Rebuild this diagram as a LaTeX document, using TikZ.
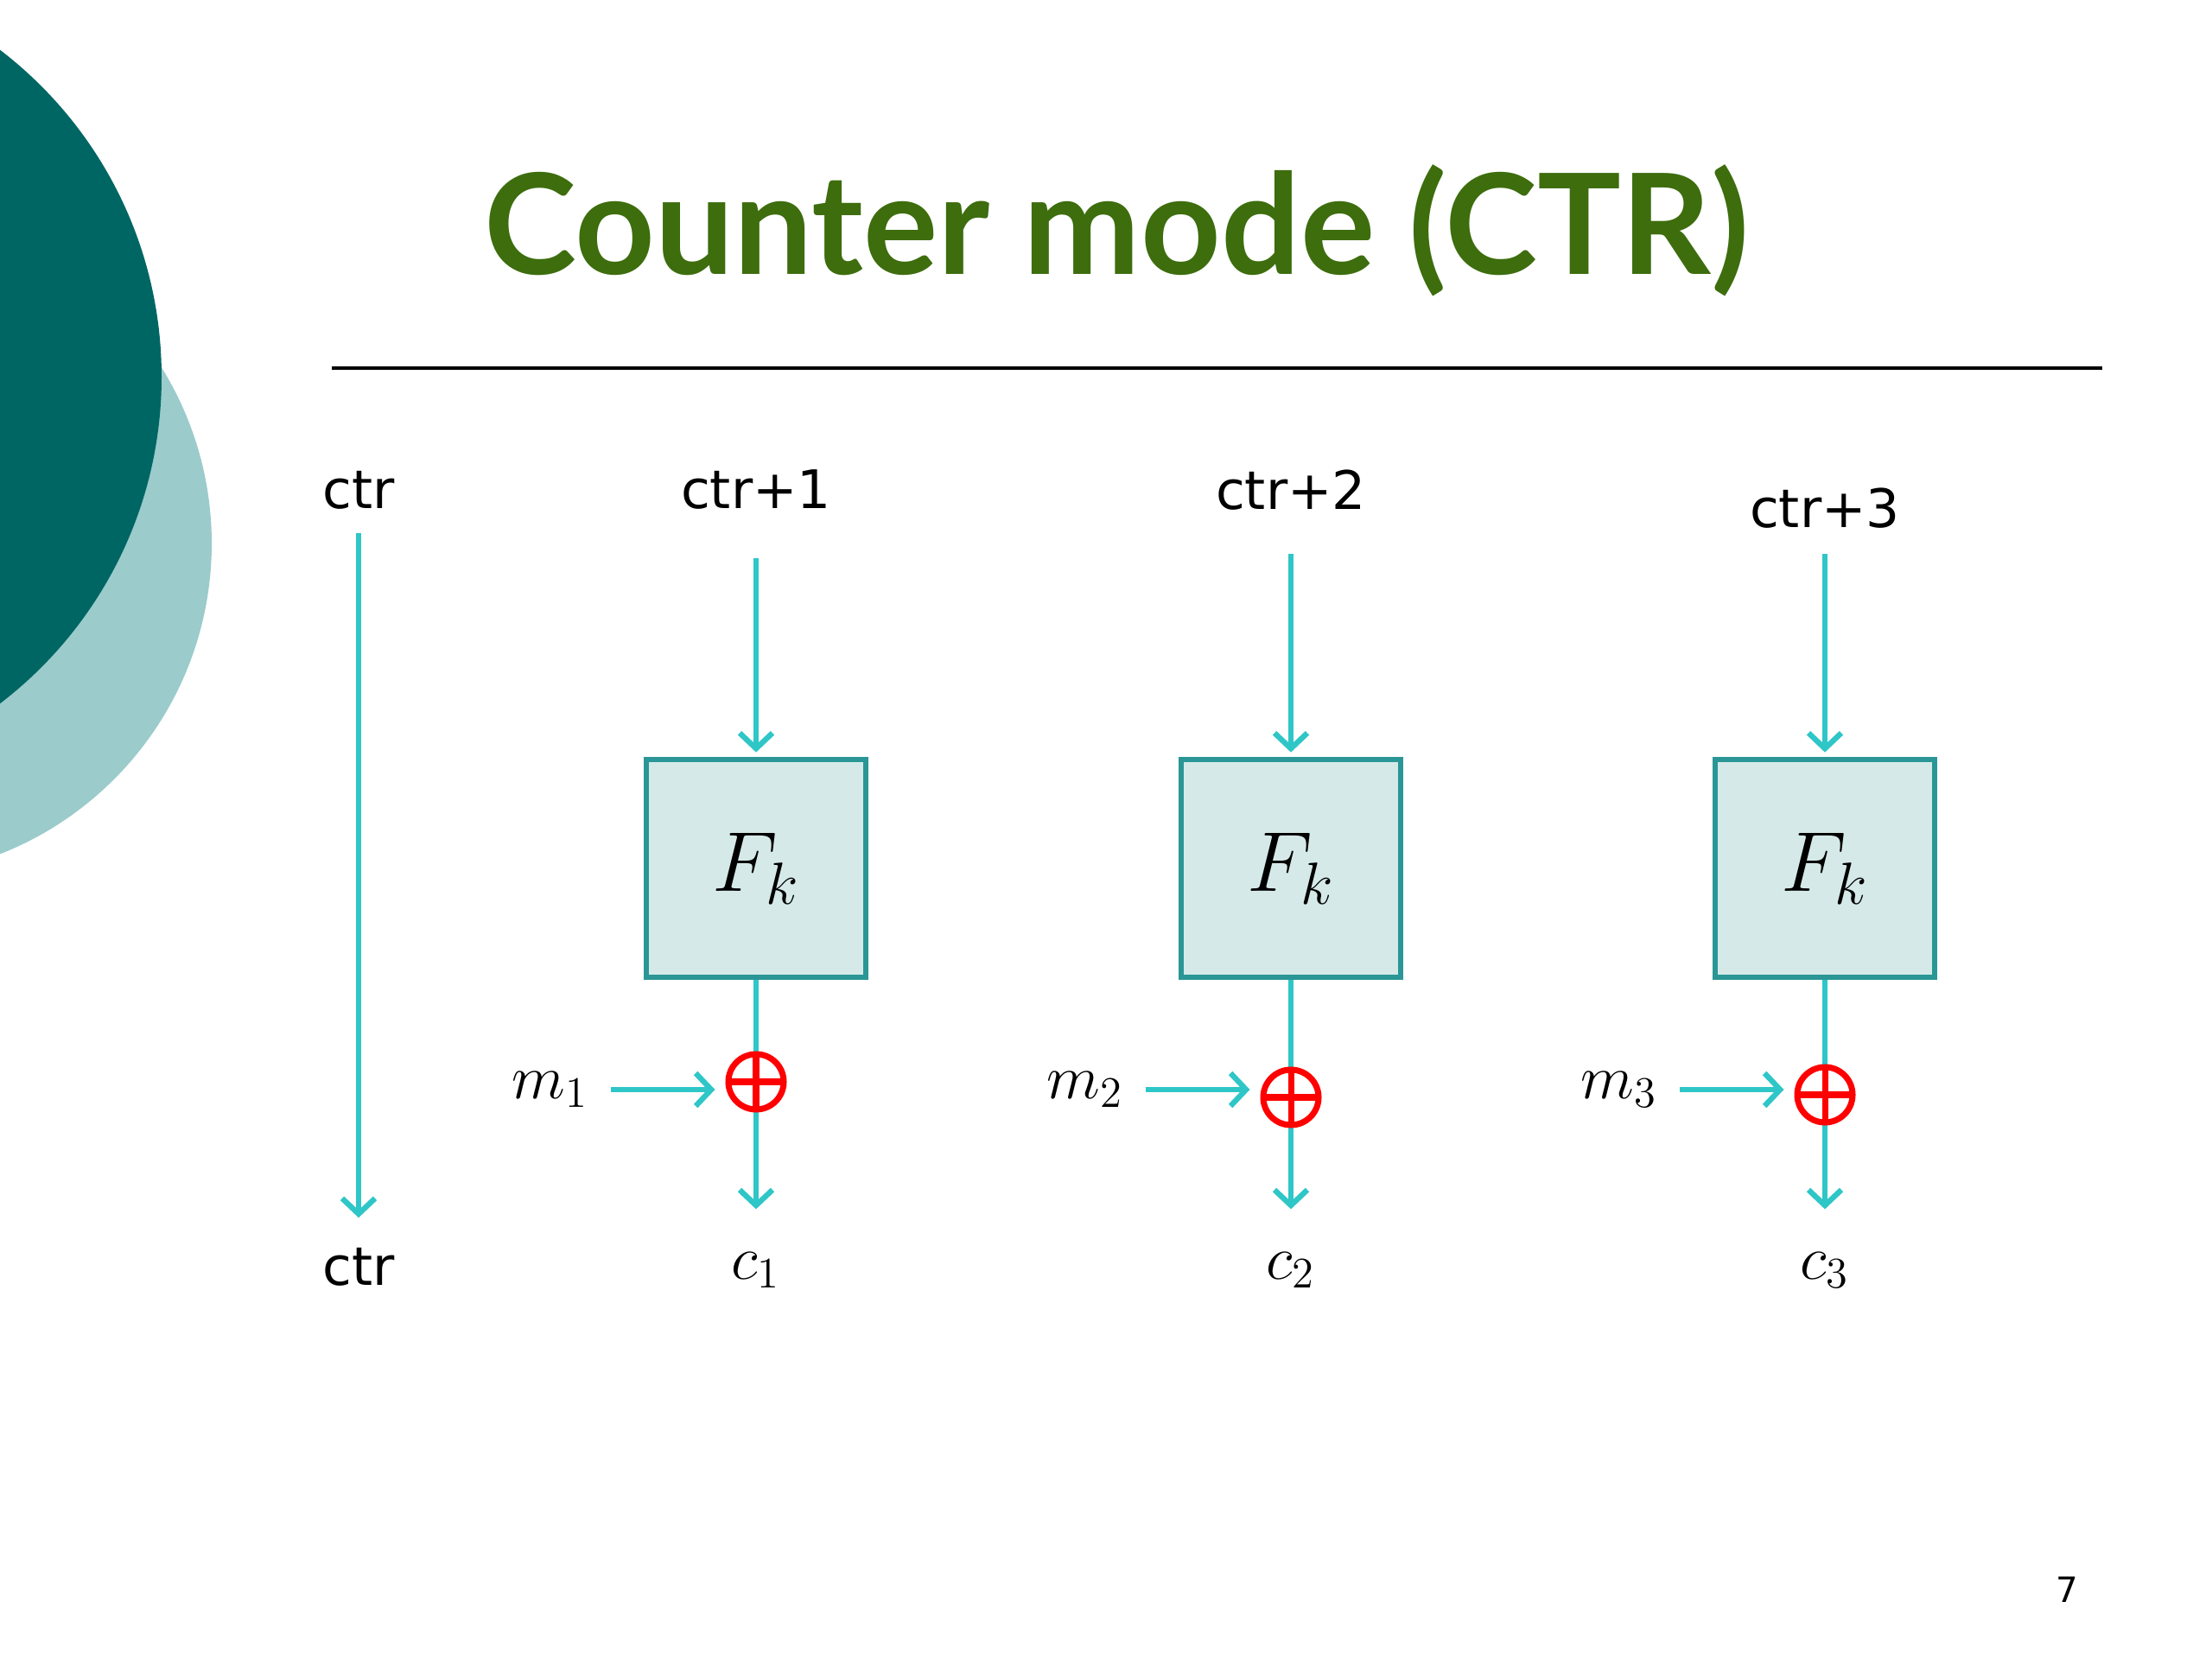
\RequirePackage{fix-cm}
\documentclass[tikz,border=0pt]{standalone}
\usepackage[no-math]{fontspec}
\setmainfont{DejaVu Sans}
\newfontfamily\titlefont{Lato}
\usetikzlibrary{arrows.meta,positioning,calc,backgrounds}

\definecolor{flow}{RGB}{47,198,200}
\definecolor{boxfill}{RGB}{213,234,232}
\definecolor{boxline}{RGB}{42,150,150}
\definecolor{titlegreen}{RGB}{61,109,13}
\definecolor{darkteal}{RGB}{0,102,99}
\definecolor{lightteal}{RGB}{155,203,203}

\begin{document}
\begin{tikzpicture}[
     block/.style = {draw=boxline, fill=boxfill, line width=1.9pt, rectangle,
      minimum width=2.54cm, minimum height=2.52cm, font=\fontsize{28}{32}\selectfont},
     input/.style = {font=\fontsize{17.5}{21}\selectfont, inner sep=0pt},
     output/.style = {font=\fontsize{20.5}{24}\selectfont, inner sep=0pt},
     arrow/.style = {draw=flow, line width=1.8pt, -{Straight Barb[length=1.8mm,width=3.8mm]}},
     link/.style = {draw=flow, line width=1.8pt},
     xor/.style = {draw=red, circle, line width=2pt, minimum size=0.64cm, inner sep=0pt,
      path picture={\draw[red, line width=2pt]
        (path picture bounding box.north) -- (path picture bounding box.south)
        (path picture bounding box.west) -- (path picture bounding box.east);}}
    ]
    \useasboundingbox (0,0) rectangle (25.6,-19.2);

    % slide background
    \begin{scope}
      \clip (0,0) rectangle (25.6,-19.2);
      \fill[lightteal] (-1.41,-6.29) circle (3.86);
      \fill[darkteal] (-2.89,-4.36) circle (4.76);
    \end{scope}
    \node [anchor=base, text=titlegreen, font=\titlefont\bfseries\fontsize{46}{54}\selectfont] (title) at (12.92,-3.18) {Counter mode (CTR)};
    \draw [line width=0.9pt] (3.84,-4.26) -- (24.33,-4.26);

    \node [input] (ctr) at (4.15,-5.67) {ctr};
    \node [input, below of=ctr, node distance=8.99cm] (ctrout) {ctr};

    \node [block] (f1) at (8.75,-10.05) {$F_k$};
    \node [input, above of=f1, node distance=4.38cm] (in1) {ctr+1};
    \node [xor, below of=f1, node distance=2.47cm] (x1) {};
    \node [output, below of=x1, node distance=2.18cm] (c1) {$c_1$};
    \node [output] (m1) at (6.37,-12.61) {$m_1$};

    \node [block, right of=f1, node distance=6.19cm] (f2) {$F_k$};
    \node [input, above of=f2, node distance=4.38cm] (in2) {ctr+2};
    \node [xor, below of=f2, node distance=2.65cm] (x2) {};
    \node [output, below of=x2, node distance=2.0cm] (c2) {$c_2$};
    \node [output, right of=m1, node distance=6.19cm] (m2) {$m_2$};

    \node [block, right of=f2, node distance=6.18cm] (f3) {$F_k$};
    \node [input, above of=f3, node distance=4.17cm] (in3) {ctr+3};
    \node [xor, below of=f3, node distance=2.62cm] (x3) {};
    \node [output, below of=x3, node distance=2.03cm] (c3) {$c_3$};
    \node [output, right of=m2, node distance=6.18cm] (m3) {$m_3$};

    \node [font=\fontsize{11.5}{14}\selectfont] (pgnum) at (23.92,-18.40) {7};

    \draw[arrow, shorten <=2.7mm, shorten >=3.4mm] (ctr) -- (ctrout);

    \draw[arrow, shorten <=5.5mm, shorten >=0.5mm] (in1) -- (f1);
    \draw[arrow, shorten <=5mm, shorten >=0.5mm] (in2) -- (f2);
    \draw[arrow, shorten <=2.9mm, shorten >=0.5mm] (in3) -- (f3);

    \draw[arrow, shorten <=2.5mm, shorten >=1.2mm] (m1) -- (m1 -| x1.west);
    \draw[arrow, shorten <=2.5mm, shorten >=1.2mm] (m2) -- (m2 -| x2.west);
    \draw[arrow, shorten <=2.5mm, shorten >=1.2mm] (m3) -- (m3 -| x3.west);

    \begin{scope}[on background layer]
    \draw[link] (f1) -- (x1.center);
    \draw[link] (f2) -- (x2.center);
    \draw[link] (f3) -- (x3.center);
    \draw[arrow, shorten >=4.9mm] (x1.center) -- (c1);
    \draw[arrow, shorten >=4.9mm] (x2.center) -- (c2);
    \draw[arrow, shorten >=4.9mm] (x3.center) -- (c3);
    \end{scope}

\end{tikzpicture}
\end{document}
